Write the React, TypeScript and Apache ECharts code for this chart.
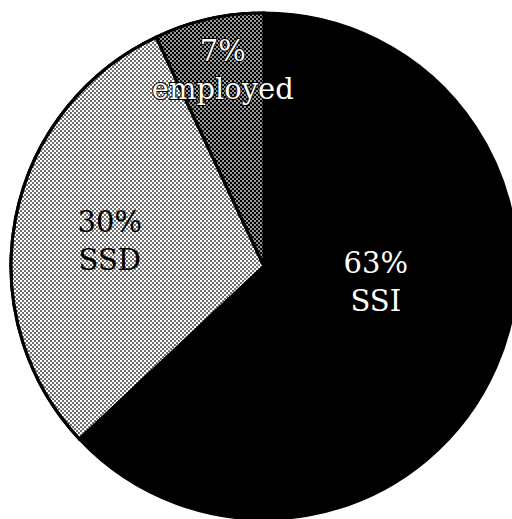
import React, { useEffect, useRef } from "react";
import * as echarts from "echarts";

const categories = ["SSI", "SSD", "employed"];
const percents = [63, 30, 7];

export default function App() {
  const ref = useRef<HTMLDivElement>(null);
  useEffect(() => {
    if (!ref.current) return;
    const chart = echarts.init(ref.current, undefined, { renderer: "svg" });
    const styles = [
      { color: "#000", label: { color: "#fff" }, decal: undefined as any, off: [-7, -35] },
      {
        color: "#fff",
        label: { color: "#000" },
        decal: {
          symbol: "rect",
          symbolSize: 0.75,
          color: "#000",
          dashArrayX: [[2, 2], [0, 2, 2, 0]],
          dashArrayY: [2, 0],
        },
        off: [-27, -1],
      },
      {
        color: "#000",
        label: { color: "#fff", textBorderColor: "#000", textBorderWidth: 2 },
        decal: {
          symbol: "rect",
          symbolSize: 0.8,
          color: "#fff",
          dashArrayX: [[2, 2], [0, 2, 2, 0]],
          dashArrayY: [2, 0],
        },
        off: [-13, -70],
      },
    ];
    chart.setOption({
      animation: false,
      backgroundColor: "#fff",
      series: [
        {
          type: "pie",
          center: [264, 266],
          radius: 253,
          startAngle: 90,
          clockwise: true,
          avoidLabelOverlap: false,
          itemStyle: { borderColor: "#000", borderWidth: 3 },
          label: {
            position: "inside",
            fontFamily: "DejaVu Serif",
            fontSize: 29,
            lineHeight: 38,
            formatter: (p: any) => `${p.value}%\n${p.name}`,
          },
          labelLine: { show: false },
          emphasis: { disabled: true },
          data: categories.map((name, i) => ({
            name,
            value: percents[i],
            itemStyle: { color: styles[i].color, decal: styles[i].decal },
            label: { ...styles[i].label },
          })),
          labelLayout: (params: any) => ({
            dx: styles[params.dataIndex].off[0],
            dy: styles[params.dataIndex].off[1],
          }),
        },
      ],
    });
    return () => chart.dispose();
  }, []);
  return (
    <div
      ref={ref}
      style={{ position: "fixed", left: 0, top: 0, width: 512, height: 519 }}
    />
  );
}
